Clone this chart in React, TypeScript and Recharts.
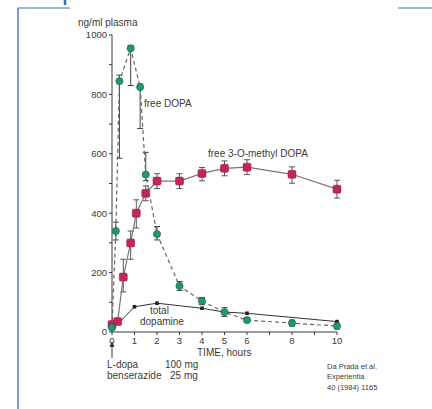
import { ScatterChart, Scatter, XAxis, YAxis, ErrorBar } from 'recharts'

const dopaTime = [0, 0.17, 0.33, 0.83, 1.25, 1.5, 2, 3, 4, 5, 6, 8, 10]
const dopaValue = [15, 340, 845, 955, 825, 530, 330, 155, 104, 67, 40, 30, 20]
const dopaErr = [[0, 0], [30, 30], [260, 20], [125, 10], [140, 10], [20, 75], [20, 25], [15, 15], [12, 12], [15, 15], [8, 8], [10, 10], [10, 10]]

const omdTime = [0, 0.25, 0.5, 0.83, 1.08, 1.5, 2, 3, 4, 5, 6, 8, 10]
const omdValue = [25, 35, 185, 300, 400, 467, 508, 508, 534, 551, 555, 531, 481]
const omdErr = [[0, 0], [5, 5], [50, 60], [55, 40], [50, 45], [25, 25], [25, 25], [25, 25], [25, 20], [25, 25], [25, 25], [30, 25], [30, 30]]

const daTime = [0, 0.3, 1, 2, 4, 5, 6, 10]
const daValue = [20, 30, 85, 97, 80, 67, 63, 35]

const xTicks = [0, 1, 2, 3, 4, 5, 6, 7, 8, 9, 10]
const xLabels = ['0', '1', '2', '3', '4', '5', '6', '', '8', '', '10']
const yTicks = [0, 100, 200, 300, 400, 500, 600, 700, 800, 900, 1000]

const dopa = dopaTime.map((t, i) => ({ t, v: dopaValue[i], e: dopaErr[i] }))
const omd = omdTime.map((t, i) => ({ t, v: omdValue[i], e: omdErr[i] }))
const da = daTime.map((t, i) => ({ t, v: daValue[i] }))

const TEAL = '#22967a'
const MAGENTA = '#c2245f'
const INK = '#3a3a3a'
const font = '"Liberation Sans", Arial, sans-serif'

const Circle = (p: any) => <circle cx={p.cx} cy={p.cy} r={3.6} fill={TEAL} stroke="#1a5a4a" strokeWidth={0.6} />
const Square = (p: any) => <rect x={p.cx - 4} y={p.cy - 4} width={8} height={8} rx={1.5} fill={MAGENTA} stroke="#8a1a44" strokeWidth={0.5} />
const Dot = (p: any) => <rect x={p.cx - 1.8} y={p.cy - 1.8} width={3.6} height={3.6} fill="#222" />

export default function App() {
  return (
    <div style={{ position: 'fixed', left: 0, top: 0, width: 432, height: 409, background: '#fff', fontFamily: font }}>
      <ScatterChart width={432} height={409} margin={{ top: 35, right: 95, bottom: 47, left: 72 }}>
        <XAxis type="number" dataKey="t" domain={[0, 10]} ticks={xTicks} tickFormatter={(v: number) => xLabels[xTicks.indexOf(v)]}
          height={30} stroke={INK} tickSize={3} tick={{ fill: INK, fontSize: 9.5, fontFamily: font }} />
        <YAxis type="number" dataKey="v" domain={[0, 1000]} ticks={yTicks} tickFormatter={(v: number) => (v % 200 === 0 ? String(v) : '')}
          width={40} stroke={INK} tickSize={3} tick={{ fill: INK, fontSize: 9.5, fontFamily: font }} />
        <Scatter data={da} line={{ stroke: '#333', strokeWidth: 1 }} lineType="joint" shape={Dot} isAnimationActive={false} />
        <Scatter data={omd} line={{ stroke: '#777', strokeWidth: 1.2 }} lineType="joint" shape={Square} isAnimationActive={false}>
          <ErrorBar dataKey="e" direction="y" width={3} stroke="#555" strokeWidth={1} />
        </Scatter>
        <Scatter data={dopa} line={{ stroke: '#666', strokeWidth: 1.2, strokeDasharray: '4 3' }} lineType="joint" shape={Circle} isAnimationActive={false}>
          <ErrorBar dataKey="e" direction="y" width={3} stroke="#444" strokeWidth={1} />
        </Scatter>
      </ScatterChart>
      <svg width={432} height={409} style={{ position: 'absolute', left: 0, top: 0, pointerEvents: 'none' }}>
        <line x1={18} y1={8} x2={70} y2={8} stroke="#7f9fcc" strokeWidth={1.5} />
        <line x1={18} y1={8} x2={18} y2={409} stroke="#4f78b8" strokeWidth={1.5} />
        <line x1={65} y1={0} x2={65} y2={5} stroke="#3f68b0" strokeWidth={2.5} />
        <line x1={398} y1={8} x2={432} y2={8} stroke="#7f9fcc" strokeWidth={1.5} />
        <g fill={INK} fontSize={10} fontFamily={font}>
          <text x={78} y={26}>ng/ml plasma</text>
          <text x={144} y={107}>free DOPA</text>
          <text x={208} y={157}>free 3-O-methyl DOPA</text>
          <text x={150} y={314}>total</text>
          <text x={140} y={325}>dopamine</text>
          <text x={197} y={356}>TIME, hours</text>
          <text x={107} y={368}>L-dopa</text>
          <text x={107} y={379}>benserazide</text>
          <text x={165} y={368}>100 mg</text>
          <text x={170} y={379}>25 mg</text>
        </g>
        <g fill={INK} fontSize={7.5} fontFamily={font}>
          <text x={327} y={369}>Da Prada et al.</text>
          <text x={327} y={379}>Experientia</text>
          <text x={327} y={390}>40 (1984) 1165</text>
        </g>
        <line x1={112} y1={358} x2={112} y2={345} stroke={INK} strokeWidth={1} />
        <path d="M109.5,347 L112,341 L114.5,347 Z" fill={INK} />
      </svg>
    </div>
  )
}
